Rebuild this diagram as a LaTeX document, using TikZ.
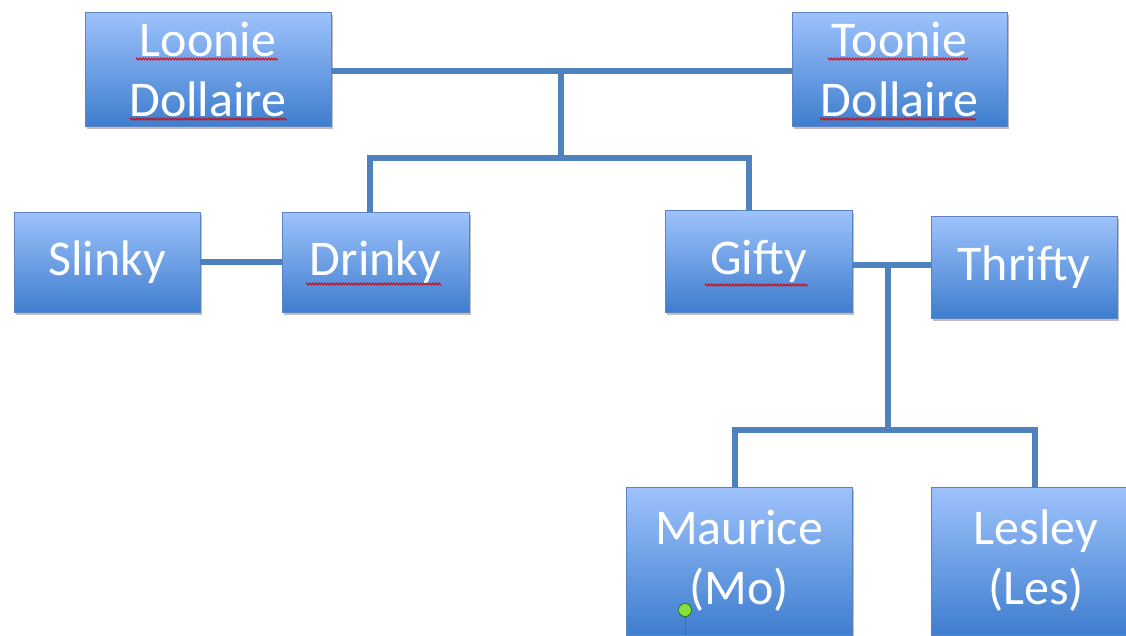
\documentclass[tikz,border=0pt]{standalone}
\usepackage{fontspec}
\setmainfont{Carlito}
\usetikzlibrary{shadows,decorations.pathmorphing}
\definecolor{boxtop}{RGB}{158,194,252}
\definecolor{boxbot}{RGB}{62,126,206}
\definecolor{boxline}{RGB}{92,132,192}
\definecolor{conncol}{RGB}{79,129,189}
\definecolor{handlecol}{RGB}{140,222,60}
\tikzset{
  famnode/.style={draw=boxline, line width=0.8pt, top color=boxtop, bottom color=boxbot,
    text=white, align=center, inner sep=0pt, font=\fontsize{50}{60}\selectfont,
    drop shadow={shadow xshift=2pt, shadow yshift=-3pt, opacity=0.25, fill=black}},
  conn/.style={draw=conncol, line width=6pt},
  squig/.style={draw=red!85!black, line width=0.9pt, decorate,
    decoration={zigzag, segment length=3pt, amplitude=1pt}}
}
\begin{document}
\begin{tikzpicture}[x=1pt,y=-1pt]
\useasboundingbox (0,0) rectangle (1126,635);
\clip (0,0) rectangle (1126,635);
\coordinate (j1) at (561,71);
\coordinate (j2) at (561,158);
\coordinate (j3) at (888,265);
\coordinate (j4) at (888,430);
\coordinate (dtop) at (370,212);
\coordinate (gtop) at (749,211);
\coordinate (mtop) at (735,488);
\coordinate (ltop) at (1035,488);
% nodes
\node[famnode, minimum width=246pt, minimum height=114pt] (loonie) at (208,69) {Loonie\\Dollaire};
\node[famnode, minimum width=215pt, minimum height=114pt] (toonie) at (899.5,69) {Toonie\\Dollaire};
\node[famnode, minimum width=186pt, minimum height=100pt] (slinky) at (107,262) {Slinky};
\node[famnode, minimum width=187pt, minimum height=100pt] (drinky) at (375.5,262) {Drinky};
\node[famnode, minimum width=187pt, minimum height=102pt] (gifty) at (758.5,261) {Gifty};
\node[famnode, minimum width=186pt, minimum height=102pt] (thrifty) at (1024,267) {Thrifty};
\node[famnode, minimum width=226pt, minimum height=148pt] (maurice) at (739,561) {Maurice\\(Mo)};
\node[famnode, minimum width=210pt, minimum height=148pt] (lesley) at (1036,561) {Lesley\\(Les)};
% connectors
\draw[conn] (loonie.east |- j1) -- (toonie.west |- j1);
\draw[conn] (j1) -- (j2);
\draw[conn] (dtop) |- (j2) -| (gtop);
\draw[conn] (slinky.east) -- (drinky.west);
\draw[conn] (gifty.east |- j3) -- (thrifty.west |- j3);
\draw[conn] (j3) -- (j4);
\draw[conn] (mtop) |- (j4) -| (ltop);
% spell-check squiggles
\draw[squig] (136,59) -- (278,59);
\draw[squig] (130,119) -- (287,119);
\draw[squig] (828,59) -- (968,59);
\draw[squig] (820,119) -- (976,119);
\draw[squig] (306,284) -- (441,284);
\draw[squig] (705,285) -- (808,285);
% selection handle
\coordinate (hb) at (685,635);
\draw[black!60, line width=1pt] (685,612) -- (hb);
\node[circle, fill=handlecol, draw=green!45!black, line width=0.6pt, minimum size=13pt, inner sep=0pt] (handle) at (685,610) {};
\end{tikzpicture}
\end{document}
